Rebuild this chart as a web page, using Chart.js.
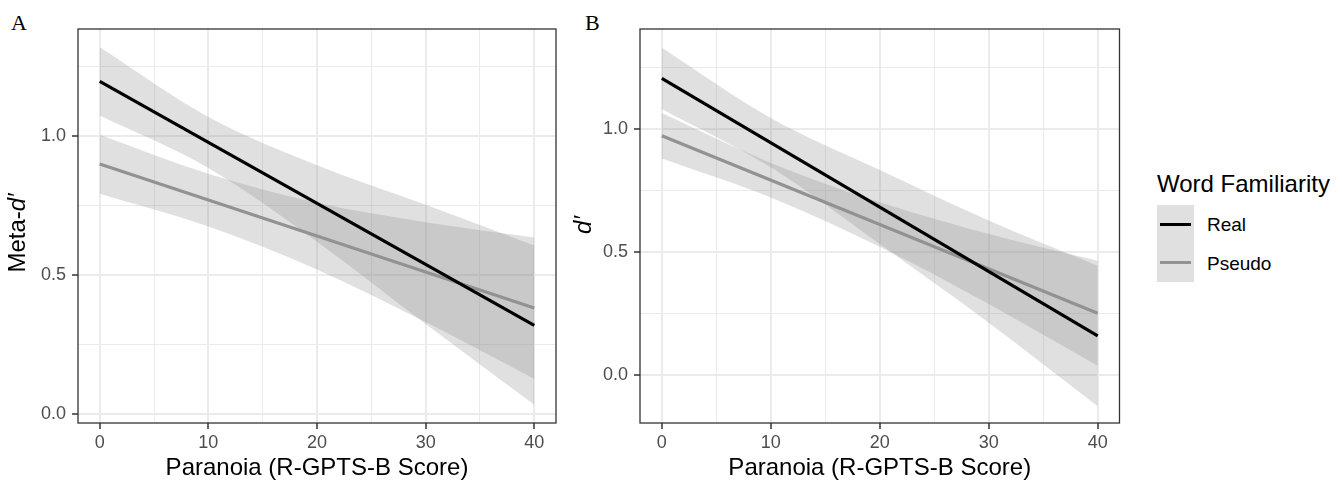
<!DOCTYPE html>
<html>
<head>
<meta charset="utf-8">
<script src="https://cdn.jsdelivr.net/npm/chart.js@4.4.1/dist/chart.umd.min.js"></script>
<style>
  body { margin: 0; background: #fff; }
  #wrap {
    position: relative; width: 1342px; height: 480px; overflow: hidden; background: #fff;
    font-family: "Liberation Sans", Arial, sans-serif;
  }
  canvas { position: absolute; top: 0; }
  .tag {
    position: absolute; font-family: "Liberation Serif", "Times New Roman", serif;
    font-size: 22px; line-height: 22px; color: #000;
  }
  .legend-title { position: absolute; left: 1157px; top: 172px; font-size: 24px; line-height: 24px; color: #000; white-space: nowrap; }
  .legend-keys { position: absolute; left: 1157px; top: 205px; width: 37px; height: 77px; background: rgb(224, 224, 224); }
  .legend-line { position: absolute; left: 3px; width: 31px; height: 3px; }
  .legend-label { position: absolute; left: 1207px; font-size: 19px; line-height: 19px; color: #000; }
</style>
</head>
<body>
<div id="wrap">
  <div class="tag" style="left:11px; top:12px;">A</div>
  <div class="tag" style="left:585px; top:12px;">B</div>
  <canvas id="metaChart" width="570" height="480" style="left:0px;"></canvas>
  <canvas id="dprimeChart" width="575" height="480" style="left:560px;"></canvas>

  <div class="legend-title">Word Familiarity</div>
  <div class="legend-keys">
    <div class="legend-line" style="top:18px; background:#000;"></div>
    <div class="legend-line" style="top:56px; background:#929292;"></div>
  </div>
  <div class="legend-label" style="top:215px;">Real</div>
  <div class="legend-label" style="top:254px;">Pseudo</div>
</div>

<script>
// paranoia scores where the fitted lines and their confidence bands are read
const fitX = [0, 40];
const bandX = [0, 10, 20, 30, 40];

// panel A: meta-d'
const metaRealFit = [1.198, 0.318];
const metaPseudoFit = [0.900, 0.381];
const metaRealUpper = [1.321, 1.070, 0.896, 0.753, 0.606];
const metaRealLower = [1.075, 0.886, 0.620, 0.323, 0.032];
const metaPseudoUpper = [1.006, 0.865, 0.760, 0.690, 0.635];
const metaPseudoLower = [0.793, 0.675, 0.520, 0.330, 0.125];

// panel B: d'
const dRealFit = [1.205, 0.160];
const dPseudoFit = [0.972, 0.252];
const dRealUpper = [1.329, 1.044, 0.833, 0.628, 0.445];
const dRealLower = [1.081, 0.844, 0.533, 0.214, -0.125];
const dPseudoUpper = [1.064, 0.862, 0.702, 0.574, 0.465];
const dPseudoLower = [0.880, 0.722, 0.522, 0.290, 0.039];

// axis ticks
const xMajor = [0, 10, 20, 30, 40];
const xMinor = [5, 15, 25, 35];
const yMajor = [0, 0.5, 1.0];
const yMinor = [0.25, 0.75, 1.25];

const xTitle = "Paranoia (R-GPTS-B Score)";

const FONT = '"Liberation Sans", Arial, sans-serif';
const bandFill = "rgba(140, 140, 140, 0.27)";
const realColor = "#000000";
const pseudoColor = "#929292";

Chart.defaults.font.family = FONT;
Chart.defaults.animation = false;

function toPoints(xs, ys) {
  return xs.map((x, i) => ({ x: x, y: ys[i] }));
}

function tickList(major, minor) {
  return major.concat(minor).sort((a, b) => a - b).map(v => ({ value: v }));
}

function isMajor(list, v) {
  return list.some(m => Math.abs(m - v) < 1e-9);
}

function fitLine(ys, color, order) {
  return {
    data: toPoints(fitX, ys),
    borderColor: color,
    borderWidth: 3.2,
    pointRadius: 0,
    fill: false,
    order: order,
  };
}

function bandEdge(ys, fillTo) {
  return {
    data: toPoints(bandX, ys),
    borderColor: "rgba(0,0,0,0)",
    borderWidth: 0,
    pointRadius: 0,
    backgroundColor: bandFill,
    fill: fillTo,
    cubicInterpolationMode: "monotone",
    order: 3,
  };
}

// full rectangle round the panel, drawn on top of the bands
const panelBorder = {
  id: "panelBorder",
  afterDraw(chart) {
    const a = chart.chartArea;
    const ctx = chart.ctx;
    ctx.save();
    ctx.strokeStyle = "#333333";
    ctx.lineWidth = 1.3;
    ctx.strokeRect(a.left, a.top, a.right - a.left, a.bottom - a.top);
    ctx.restore();
  },
};

// rotated y title with an italic d
function yTitle(parts, x, y) {
  return {
    id: "yTitle",
    afterDraw(chart) {
      const ctx = chart.ctx;
      ctx.save();
      ctx.translate(x, y);
      ctx.rotate(-Math.PI / 2);
      ctx.fillStyle = "#000";
      ctx.textBaseline = "alphabetic";
      let total = 0;
      const sized = parts.map(p => {
        ctx.font = (p.italic ? "italic " : "") + "24px " + FONT;
        const w = ctx.measureText(p.text).width;
        total += w;
        return { text: p.text, italic: p.italic, w: w };
      });
      let cx = -total / 2;
      for (const p of sized) {
        ctx.font = (p.italic ? "italic " : "") + "24px " + FONT;
        ctx.fillText(p.text, cx, 0);
        cx += p.w;
      }
      ctx.restore();
    },
  };
}

function createPanel(canvasId, cfg) {
  const datasets = [
    fitLine(cfg.realFit, realColor, 1),
    fitLine(cfg.pseudoFit, pseudoColor, 2),
    bandEdge(cfg.realUpper, "+1"),
    bandEdge(cfg.realLower, false),
    bandEdge(cfg.pseudoUpper, "+1"),
    bandEdge(cfg.pseudoLower, false),
  ];

  const gridCommon = (major) => ({
    color: "#ebebeb",
    lineWidth: (c) => (c.tick && isMajor(major, c.tick.value) ? 2 : 1),
    tickColor: (c) => (c.tick && isMajor(major, c.tick.value) ? "#333333" : "rgba(0,0,0,0)"),
    tickWidth: 1.5,
    tickLength: 6,
    drawTicks: true,
  });

  new Chart(document.getElementById(canvasId), {
    type: "line",
    data: { datasets: datasets },
    options: {
      responsive: false,
      devicePixelRatio: 1,
      layout: { padding: { left: 0, right: cfg.padRight, top: 29, bottom: 0 } },
      plugins: {
        legend: { display: false },
        tooltip: { enabled: false },
      },
      scales: {
        x: {
          type: "linear",
          min: -2,
          max: 42,
          afterBuildTicks: (s) => { s.ticks = tickList(xMajor, xMinor); },
          afterFit: (s) => { s.height = 57; },
          grid: gridCommon(xMajor),
          border: { display: false },
          ticks: {
            color: "#4d4d4d",
            font: { size: 18 },
            padding: 3,
            maxRotation: 0,
            autoSkip: false,
            callback: (v) => (isMajor(xMajor, v) ? String(v) : ""),
          },
          title: {
            display: true,
            text: xTitle,
            color: "#000",
            font: { size: 24, lineHeight: 1 },
            padding: { top: 0, bottom: 0 },
          },
        },
        y: {
          type: "linear",
          min: cfg.yMin,
          max: cfg.yMax,
          afterBuildTicks: (s) => { s.ticks = tickList(yMajor, yMinor); },
          afterFit: (s) => { s.width = cfg.axisWidth; },
          grid: gridCommon(yMajor),
          border: { display: false },
          ticks: {
            color: "#4d4d4d",
            font: { size: 18 },
            padding: 6,
            autoSkip: false,
            callback: (v) => (isMajor(yMajor, v) ? v.toFixed(1) : ""),
          },
        },
      },
    },
    plugins: [panelBorder, yTitle(cfg.yLabel, cfg.titleX, cfg.titleY)],
  });
}

createPanel("metaChart", {
  realFit: metaRealFit,
  pseudoFit: metaPseudoFit,
  realUpper: metaRealUpper,
  realLower: metaRealLower,
  pseudoUpper: metaPseudoUpper,
  pseudoLower: metaPseudoLower,
  yMin: -0.034,
  yMax: 1.387,
  axisWidth: 78,
  padRight: 14,
  yLabel: [{ text: "Meta-", italic: false }, { text: "d\u2032", italic: true }],
  titleX: 25,
  titleY: 233,
});

createPanel("dprimeChart", {
  realFit: dRealFit,
  pseudoFit: dPseudoFit,
  realUpper: dRealUpper,
  realLower: dRealLower,
  pseudoUpper: dPseudoUpper,
  pseudoLower: dPseudoLower,
  yMin: -0.193,
  yMax: 1.405,
  axisWidth: 80,
  padRight: 15.5,
  yLabel: [{ text: "d\u2032", italic: true }],
  titleX: 31,
  titleY: 225,
});
</script>
</body>
</html>
